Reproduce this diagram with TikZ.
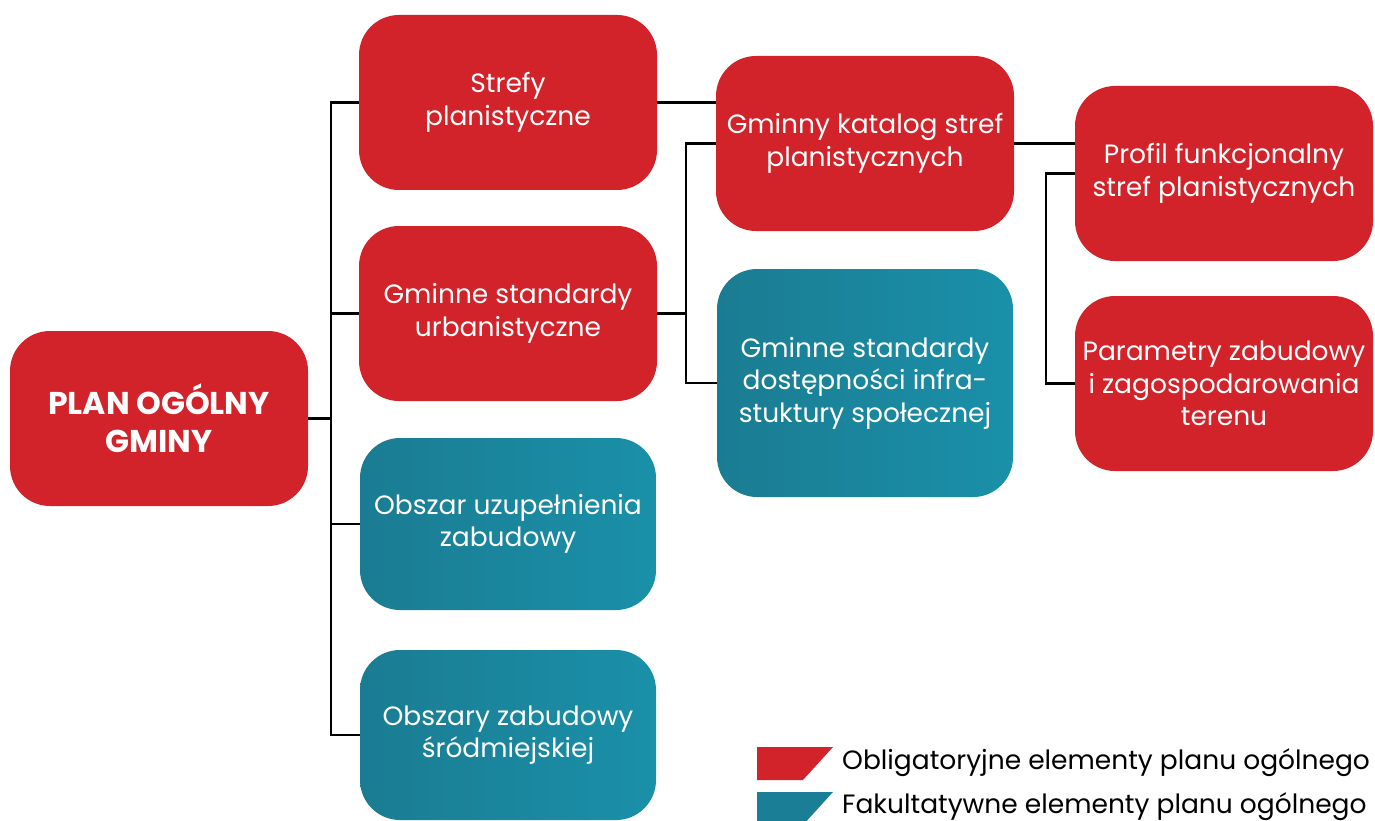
\documentclass[tikz,border=0pt]{standalone}
\usepackage{fontspec}
\setmainfont{Poppins}
\definecolor{myred}{HTML}{D2232A}
\definecolor{tealL}{HTML}{1A7C92}
\definecolor{tealR}{HTML}{1A90A9}
\definecolor{tealLeg}{HTML}{1A7F96}
\tikzset{
  box/.style={rounded corners=40pt, minimum width=298pt, minimum height=175pt,
    text=white, align=center, inner sep=0pt, font=\fontsize{26.5}{32.5}\selectfont},
  oblig/.style={box, fill=myred},
  fakult/.style={box, left color=tealL, right color=tealR},
  conn/.style={draw=black, line width=2.3pt},
  legtext/.style={anchor=west, inner sep=0pt, font=\fontsize{26.5}{30}\selectfont, text=black}
}
\begin{document}
\begin{tikzpicture}[x=1pt,y=-1pt]
\useasboundingbox (0,0) rectangle (1375,821);
% nodes
\node[oblig, font=\bfseries\fontsize{31.5}{38}\selectfont] (plan) at (159,418.5) {PLAN OGÓLNY\\GMINY};
\node[oblig] (strefy) at (508,102.5) {Strefy\\planistyczne};
\node[oblig] (gminne) at (508,313.5) {Gminne standardy\\urbanistyczne};
\node[fakult, minimum width=296pt, minimum height=172pt] (obszar) at (508,524) {Obszar uzupełnienia\\zabudowy};
\node[fakult, minimum width=296pt, minimum height=170pt] (obszary) at (508,735) {Obszary zabudowy\\śródmiejskiej};
\node[oblig] (katalog) at (865,143.5) {Gminny katalog stref\\planistycznych};
\node[fakult, minimum width=296pt, minimum height=228pt] (dostep) at (865,383) {Gminne standardy\\dostępności infra-\\stuktury społecznej};
\node[oblig] (profil) at (1224,173.5) {Profil funkcjonalny\\stref planistycznych};
\node[oblig] (param) at (1224,383.5) {Parametry zabudowy\\i zagospodarowania\\terenu};
% connector coordinates
\coordinate (t1) at (331,0);
\coordinate (t2) at (686,0);
\coordinate (t3) at (1046,0);
% trunk
\draw[conn] (plan.east) -- (plan.east -| t1);
\draw[conn] (strefy.west) -- (strefy.west -| t1) -- (obszary.west -| t1) -- (obszary.west);
\draw[conn] (gminne.west) -- (gminne.west -| t1);
\draw[conn] (obszar.west) -- (obszar.west -| t1);
% second level
\draw[conn] (strefy.east) -- (strefy.east -| katalog.west);
\draw[conn] (gminne.east) -- (gminne.east -| t2);
\draw[conn] (katalog.west) -- (katalog.west -| t2) -- (dostep.west -| t2) -- (dostep.west);
% third level
\draw[conn] (katalog.east) -- (katalog.east -| profil.west);
\draw[conn] (profil.west) -- (profil.west -| t3) -- (param.west -| t3) -- (param.west);
% legend
\fill[myred] (757,747) -- (833,747) -- (803,780) -- (757,780) -- cycle;
\fill[tealLeg] (757,792) -- (833,792) -- (803,825) -- (757,825) -- cycle;
\node[legtext] (leg1) at (842,763) {Obligatoryjne elementy planu ogólnego};
\node[legtext] (leg2) at (842,807) {Fakultatywne elementy planu ogólnego};
\end{tikzpicture}
\end{document}
